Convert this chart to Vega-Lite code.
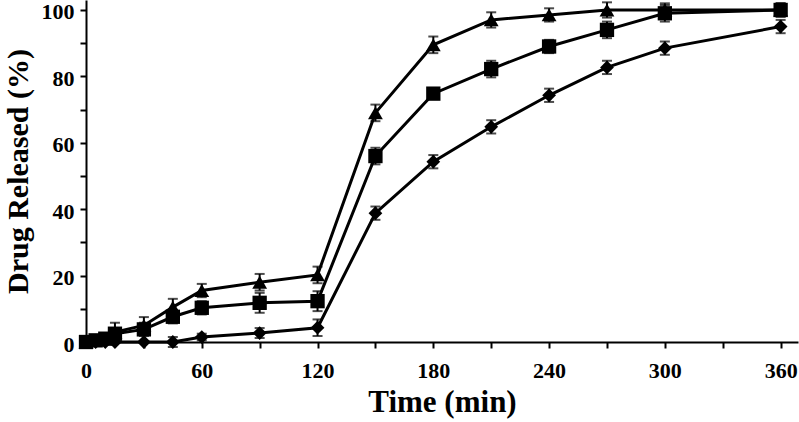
{
  "$schema": "https://vega.github.io/schema/vega-lite/v6.json",
  "width": 712,
  "height": 342,
  "autosize": {"type": "none"},
  "padding": {"left": 86, "top": 0, "right": 1, "bottom": 80},
  "background": "white",
  "config": {
    "view": {"stroke": null},
    "font": "Liberation Serif",
    "axis": {
      "domainColor": "black", "domainWidth": 2, "tickColor": "black", "tickWidth": 2, "tickSize": 6,
      "labelFont": "Liberation Serif", "labelFontWeight": "bold", "labelFontSize": 22, "labelColor": "black",
      "labelFlush": false, "labelOverlap": false,
      "titleFont": "Liberation Serif", "titleFontWeight": "bold", "titleColor": "black",
      "grid": false
    }
  },
  "data": {"values": [
    {"t": 0, "s": "A", "v": 0, "e": 0}, {"t": 5, "s": "A", "v": 0.5, "e": 0.5}, {"t": 10, "s": "A", "v": 1, "e": 1},
    {"t": 15, "s": "A", "v": 3, "e": 2.8}, {"t": 30, "s": "A", "v": 5, "e": 2.5}, {"t": 45, "s": "A", "v": 10.5, "e": 2.5},
    {"t": 60, "s": "A", "v": 15.5, "e": 2}, {"t": 90, "s": "A", "v": 18, "e": 2.5}, {"t": 120, "s": "A", "v": 20.2, "e": 2.5},
    {"t": 150, "s": "A", "v": 69, "e": 2.5}, {"t": 180, "s": "A", "v": 89.5, "e": 2.5}, {"t": 210, "s": "A", "v": 97, "e": 2.3},
    {"t": 240, "s": "A", "v": 98.5, "e": 2}, {"t": 270, "s": "A", "v": 100, "e": 2.3}, {"t": 300, "s": "A", "v": 100, "e": 2},
    {"t": 360, "s": "A", "v": 100, "e": 2},
    {"t": 0, "s": "B", "v": 0, "e": 0}, {"t": 5, "s": "B", "v": 0.5, "e": 0.5}, {"t": 10, "s": "B", "v": 1, "e": 1},
    {"t": 15, "s": "B", "v": 2.5, "e": 1.5}, {"t": 30, "s": "B", "v": 3.8, "e": 2}, {"t": 45, "s": "B", "v": 7.6, "e": 2},
    {"t": 60, "s": "B", "v": 10.3, "e": 2}, {"t": 90, "s": "B", "v": 11.8, "e": 3}, {"t": 120, "s": "B", "v": 12.3, "e": 3},
    {"t": 150, "s": "B", "v": 56, "e": 2.5}, {"t": 180, "s": "B", "v": 74.8, "e": 1.5}, {"t": 210, "s": "B", "v": 82.2, "e": 2.5},
    {"t": 240, "s": "B", "v": 89, "e": 2}, {"t": 270, "s": "B", "v": 94, "e": 2.5}, {"t": 300, "s": "B", "v": 99, "e": 2.5},
    {"t": 360, "s": "B", "v": 100, "e": 2},
    {"t": 0, "s": "C", "v": 0, "e": 0}, {"t": 5, "s": "C", "v": 0, "e": 0}, {"t": 10, "s": "C", "v": 0, "e": 0},
    {"t": 15, "s": "C", "v": 0, "e": 0}, {"t": 30, "s": "C", "v": 0, "e": 0}, {"t": 45, "s": "C", "v": 0, "e": 1.5},
    {"t": 60, "s": "C", "v": 1.5, "e": 1}, {"t": 90, "s": "C", "v": 2.7, "e": 1.5}, {"t": 120, "s": "C", "v": 4.3, "e": 2.5},
    {"t": 150, "s": "C", "v": 38.8, "e": 2}, {"t": 180, "s": "C", "v": 54.3, "e": 2}, {"t": 210, "s": "C", "v": 64.8, "e": 2},
    {"t": 240, "s": "C", "v": 74.3, "e": 2}, {"t": 270, "s": "C", "v": 82.7, "e": 2}, {"t": 300, "s": "C", "v": 88.5, "e": 2},
    {"t": 360, "s": "C", "v": 95, "e": 2}
  ]},
  "encoding": {
    "x": {"field": "t", "type": "quantitative", "scale": {"domain": [0, 369], "nice": false},
      "axis": {"values": [0, 30, 60, 90, 120, 150, 180, 210, 240, 270, 300, 330, 360],
        "labelExpr": "datum.value % 60 == 0 ? datum.label : ''", "title": "Time (min)", "titleFontSize": 31, "labelPadding": 12, "titlePadding": 6}},
    "y": {"field": "v", "type": "quantitative", "scale": {"domain": [0, 103], "nice": false},
      "axis": {"values": [0, 10, 20, 30, 40, 50, 60, 70, 80, 90, 100],
        "labelExpr": "datum.value % 20 == 0 ? datum.label : ''", "title": "Drug Released (%)", "titleFontSize": 30, "labelPadding": 6, "titlePadding": 8, "labelOffset": 2}}
  },
  "layer": [
    {"mark": {"type": "line", "color": "black", "strokeWidth": 3}, "encoding": {"detail": {"field": "s"}}},
    {"mark": {"type": "errorbar", "color": "black", "thickness": 2, "ticks": {"size": 10, "thickness": 2, "color": "black"}},
      "encoding": {"y": {"field": "v", "type": "quantitative"}, "yError": {"field": "e"}, "detail": {"field": "s"}}},
    {"mark": {"type": "point", "filled": true, "opacity": 1, "color": "black"},
      "encoding": {
        "shape": {"field": "s", "type": "nominal", "scale": {"domain": ["A", "B", "C"], "range": ["triangle-up", "square", "diamond"]}, "legend": null},
        "size": {"field": "s", "type": "nominal", "scale": {"domain": ["A", "B", "C"], "range": [220, 190, 260]}, "legend": null}
      }}
  ]
}
